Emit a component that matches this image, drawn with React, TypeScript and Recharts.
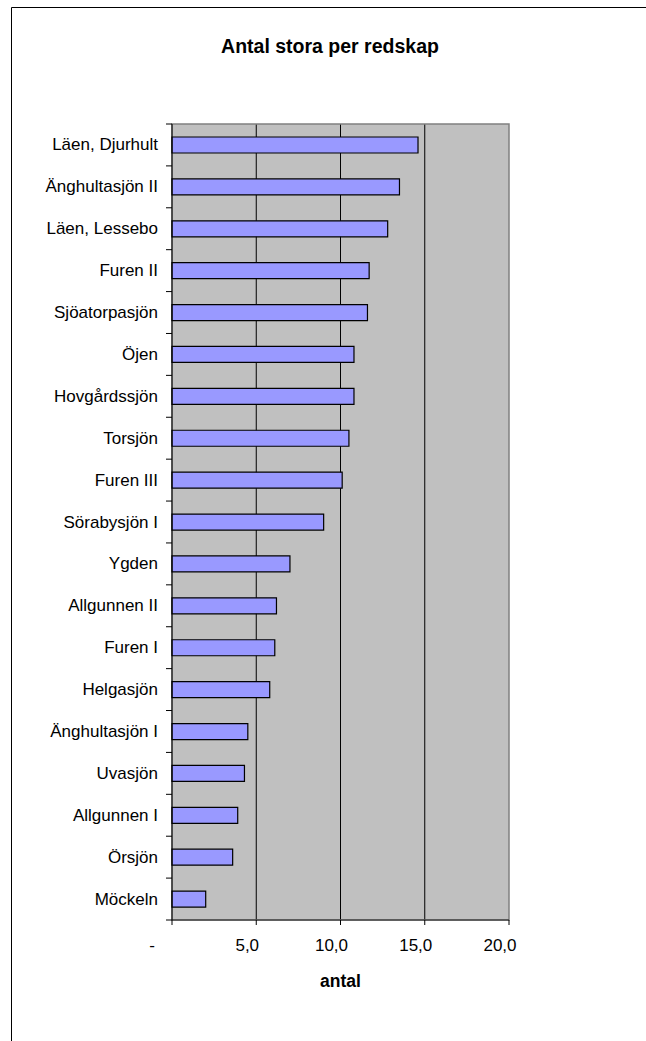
import { Bar, BarChart, CartesianGrid, ReferenceArea, XAxis, YAxis } from "recharts";

const lakes = [
  "Läen, Djurhult",
  "Änghultasjön II",
  "Läen, Lessebo",
  "Furen II",
  "Sjöatorpasjön",
  "Öjen",
  "Hovgårdssjön",
  "Torsjön",
  "Furen III",
  "Sörabysjön I",
  "Ygden",
  "Allgunnen II",
  "Furen I",
  "Helgasjön",
  "Änghultasjön I",
  "Uvasjön",
  "Allgunnen I",
  "Örsjön",
  "Möckeln",
];

const counts = [14.6, 13.5, 12.8, 11.7, 11.6, 10.8, 10.8, 10.5, 10.1, 9.0, 7.0, 6.2, 6.1, 5.8, 4.5, 4.3, 3.9, 3.6, 2.0];

const xTicks = [0, 5, 10, 15, 20];

const FONT = "'Liberation Sans', Arial, sans-serif";

const data = lakes.map((name, i) => ({ name, antal: counts[i] }));

const formatTick = (v: number) => (v === 0 ? "-" : v.toFixed(1).replace(".", ","));

// category labels, with tick marks on the band edges
function LakeTick(props: any) {
  const { x, y, payload } = props;
  const half = payload?.offset ?? 20.95;
  const right = x + 6;
  const isLast = payload.value === lakes[lakes.length - 1];
  return (
    <g>
      <line x1={right - 6} x2={right} y1={y - half} y2={y - half} stroke="#000" />
      {isLast && <line x1={right - 6} x2={right} y1={y + half} y2={y + half} stroke="#000" />}
      <text x={right - 14} y={y} dy={5.5} textAnchor="end" fontFamily={FONT} fontSize={17} fill="#000">
        {payload.value}
      </text>
    </g>
  );
}

function ValueTick(props: any) {
  const { x, payload } = props;
  const shift = payload.value === 0 ? -20 : -9;
  return (
    <text x={x + shift} y={951} textAnchor="middle" fontFamily={FONT} fontSize={17} fill="#000">
      {formatTick(payload.value)}
    </text>
  );
}

export default function App() {
  return (
    <div style={{ position: "absolute", left: 0, top: 0, width: 646, height: 1041, background: "#fff" }}>
      <BarChart
        width={646}
        height={1041}
        data={data}
        layout="vertical"
        margin={{ top: 124, right: 137, bottom: 0, left: 0 }}
        barCategoryGap="60%"
      >
        <CartesianGrid fill="#C0C0C0" horizontal={false} verticalValues={[5, 10, 15]} stroke="#000" strokeOpacity={1} />
        <ReferenceArea x1={0} x2={20} fill="none" stroke="#808080" strokeWidth={1.5} />
        <XAxis
          type="number"
          domain={[0, 20]}
          ticks={xTicks}
          interval={0}
          height={121}
          tick={<ValueTick />}
          tickSize={5}
          tickLine={{ stroke: "#000" }}
          axisLine={{ stroke: "#222" }}
          label={{
            value: "antal",
            content: ({ viewBox }: any) => (
              <text
                x={viewBox.x + viewBox.width / 2}
                y={viewBox.y + 67}
                textAnchor="middle"
                fontFamily={FONT}
                fontSize={17.5}
                fontWeight="bold"
                fill="#000"
              >
                antal
              </text>
            ),
          }}
        />
        <YAxis
          type="category"
          dataKey="name"
          width={172}
          interval={0}
          tickLine={false}
          tickSize={6}
          tickMargin={0}
          axisLine={{ stroke: "#000" }}
          tick={<LakeTick />}
        />
        <Bar dataKey="antal" barSize={16} fill="#9999FF" stroke="#000" strokeWidth={1.2} isAnimationActive={false} />
      </BarChart>
      <svg width={646} height={1041} style={{ position: "absolute", left: 0, top: 0, pointerEvents: "none" }}>
        <line x1={11.5} y1={7.5} x2={646} y2={7.5} stroke="#000" />
        <line x1={11.5} y1={7.5} x2={11.5} y2={1041} stroke="#000" />
        <text x={330} y={53} textAnchor="middle" fontFamily={FONT} fontSize={19.5} fontWeight="bold" fill="#000">
          Antal stora per redskap
        </text>
      </svg>
    </div>
  );
}
